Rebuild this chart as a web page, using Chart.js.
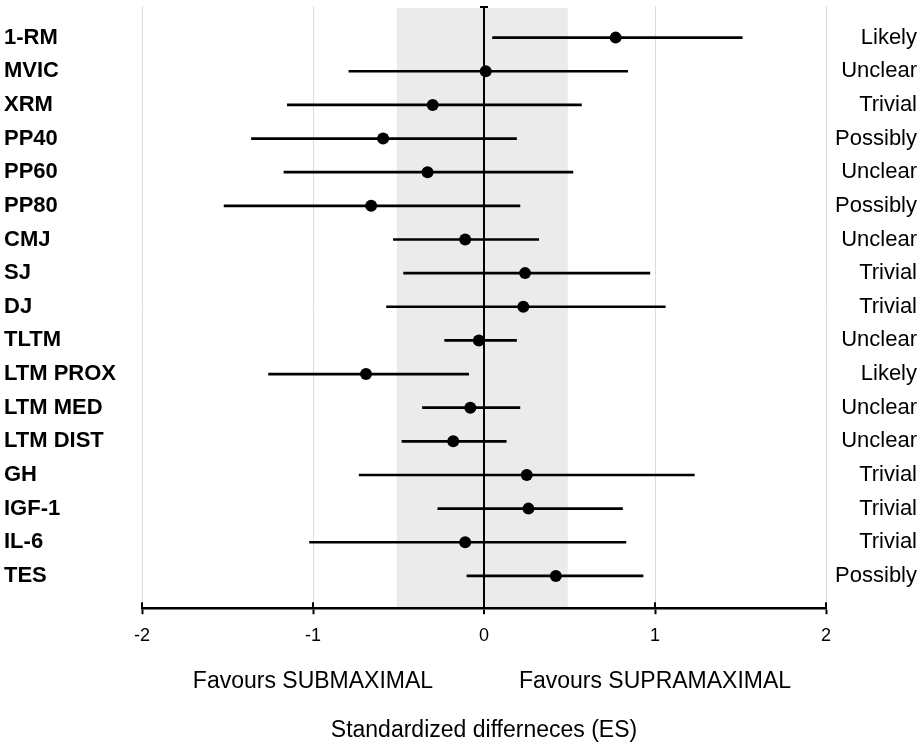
<!DOCTYPE html>
<html>
<head>
<meta charset="utf-8">
<script src="https://cdn.jsdelivr.net/npm/chart.js@4"></script>
<style>
  html, body { margin: 0; padding: 0; background: #fff; }
  #wrap { width: 920px; height: 747px; }
</style>
</head>
<body>
<div id="wrap"><canvas id="forest"></canvas></div>
<script>
// outcomes, top to bottom
const outcomes = ['1-RM', 'MVIC', 'XRM', 'PP40', 'PP60', 'PP80', 'CMJ', 'SJ', 'DJ', 'TLTM',
  'LTM PROX', 'LTM MED', 'LTM DIST', 'GH', 'IGF-1', 'IL-6', 'TES'];
// standardized differences (ES) and confidence limits
const es    = [0.77, 0.01, -0.30, -0.59, -0.33, -0.66, -0.11, 0.24, 0.23, -0.03, -0.69, -0.08, -0.18, 0.25, 0.26, -0.11, 0.42];
const lower = [0.05, -0.79, -1.15, -1.36, -1.17, -1.52, -0.53, -0.47, -0.57, -0.23, -1.26, -0.36, -0.48, -0.73, -0.27, -1.02, -0.10];
const upper = [1.51, 0.84, 0.57, 0.19, 0.52, 0.21, 0.32, 0.97, 1.06, 0.19, -0.09, 0.21, 0.13, 1.23, 0.81, 0.83, 0.93];
const verdicts = ['Likely', 'Unclear', 'Trivial', 'Possibly', 'Unclear', 'Possibly', 'Unclear', 'Trivial', 'Trivial',
  'Unclear', 'Likely', 'Unclear', 'Unclear', 'Trivial', 'Trivial', 'Trivial', 'Possibly'];

const xTicks = [-2, -1, 0, 1, 2];
const xTickLabels = ['-2', '-1', '0', '1', '2'];
const favourTicks = [-1, 1];
const favourLabels = ['Favours SUBMAXIMAL', 'Favours SUPRAMAXIMAL'];
const trivialZone = [-0.51, 0.49];
const xTitle = 'Standardized differneces (ES)';

const rowIdx = outcomes.map((_, i) => i);

// grey band for the trivial zone, behind the grid
const zonePlugin = {
  id: 'zone',
  beforeDraw(chart) {
    const { ctx, chartArea, scales } = chart;
    const x0 = scales.x.getPixelForValue(trivialZone[0]);
    const x1 = scales.x.getPixelForValue(trivialZone[1]);
    ctx.save();
    ctx.fillStyle = '#ebebeb';
    ctx.fillRect(x0, chartArea.top + 2, x1 - x0, chartArea.bottom - chartArea.top - 2);
    ctx.restore();
  }
};

// tick marks that also stick up above the axis, plus the cap on the zero line
const tickPlugin = {
  id: 'ticksUp',
  afterDraw(chart) {
    const { ctx, chartArea, scales } = chart;
    ctx.save();
    ctx.strokeStyle = '#000';
    ctx.lineWidth = 2;
    ctx.beginPath();
    xTicks.forEach(v => {
      const px = scales.x.getPixelForValue(v);
      ctx.moveTo(px, chartArea.bottom - 6);
      ctx.lineTo(px, chartArea.bottom);
    });
    const zx = scales.x.getPixelForValue(0);
    ctx.moveTo(zx - 4, chartArea.top + 1);
    ctx.lineTo(zx + 4, chartArea.top + 1);
    ctx.stroke();
    ctx.restore();
  }
};

const rowTicks = scale => { scale.ticks = rowIdx.map(i => ({ value: i })); };

new Chart(document.getElementById('forest'), {
  type: 'bar',
  data: {
    datasets: [
      {
        type: 'bar',
        data: rowIdx.map(i => ({ x: [lower[i], upper[i]], y: i })),
        backgroundColor: '#000',
        borderWidth: 0,
        borderSkipped: false,
        barThickness: 2,
        xAxisID: 'x',
        yAxisID: 'y'
      },
      {
        type: 'scatter',
        data: rowIdx.map(i => ({ x: es[i], y: i })),
        backgroundColor: '#000',
        borderColor: '#000',
        pointRadius: 6,
        pointBorderWidth: 0,
        showLine: false,
        xAxisID: 'x',
        yAxisID: 'y'
      }
    ]
  },
  options: {
    indexAxis: 'y',
    responsive: true,
    maintainAspectRatio: false,
    animation: false,
    layout: { padding: { left: 4, right: 3, top: 1, bottom: 0 } },
    plugins: { legend: { display: false }, tooltip: { enabled: false } },
    scales: {
      x: {
        type: 'linear',
        position: 'bottom',
        weight: 0,
        min: -2,
        max: 2,
        afterBuildTicks: s => { s.ticks = xTicks.map(v => ({ value: v })); },
        ticks: {
          color: '#000',
          padding: 11,
          autoSkip: false,
          maxRotation: 0,
          font: { family: 'Liberation Sans', size: 18 },
          callback: v => xTickLabels[xTicks.indexOf(v)]
        },
        grid: {
          color: c => (c.tick && c.tick.value === 0 ? '#000' : '#dcdcdc'),
          lineWidth: c => (c.tick && c.tick.value === 0 ? 2 : 1),
          tickColor: '#000',
          tickWidth: 2,
          tickLength: 6
        },
        border: { color: '#000', width: 2.5 }
      },
      xFav: {
        type: 'linear',
        axis: 'x',
        position: 'bottom',
        weight: 1,
        min: -2,
        max: 2,
        afterBuildTicks: s => { s.ticks = favourTicks.map(v => ({ value: v })); },
        ticks: {
          color: '#000',
          padding: 2,
          autoSkip: false,
          maxRotation: 0,
          font: { family: 'Liberation Sans', size: 23 },
          callback: v => favourLabels[favourTicks.indexOf(v)]
        },
        grid: { display: false },
        border: { display: false },
        title: {
          display: true,
          text: xTitle,
          color: '#000',
          font: { family: 'Liberation Sans', size: 23 },
          padding: { top: 19, bottom: 3 }
        }
      },
      y: {
        type: 'linear',
        position: 'left',
        reverse: true,
        offset: false,
        min: -0.94,
        max: 16.96,
        afterBuildTicks: rowTicks,
        afterFit: s => { s.width = 138; },
        ticks: {
          color: '#000',
          crossAlign: 'far',
          autoSkip: false,
          font: { family: 'Liberation Sans', size: 22, weight: 'bold', lineHeight: 0.01 },
          callback: v => outcomes[v]
        },
        grid: { display: false, offset: false },
        border: { display: false }
      },
      yRight: {
        type: 'linear',
        axis: 'y',
        position: 'right',
        reverse: true,
        offset: false,
        min: -0.94,
        max: 16.96,
        afterBuildTicks: rowTicks,
        afterFit: s => { s.width = 91; },
        ticks: {
          color: '#000',
          crossAlign: 'far',
          autoSkip: false,
          font: { family: 'Liberation Sans', size: 22, lineHeight: 0.01 },
          callback: v => verdicts[v]
        },
        grid: { display: false, offset: false },
        border: { display: false }
      }
    }
  },
  plugins: [zonePlugin, tickPlugin]
});
</script>
</body>
</html>
